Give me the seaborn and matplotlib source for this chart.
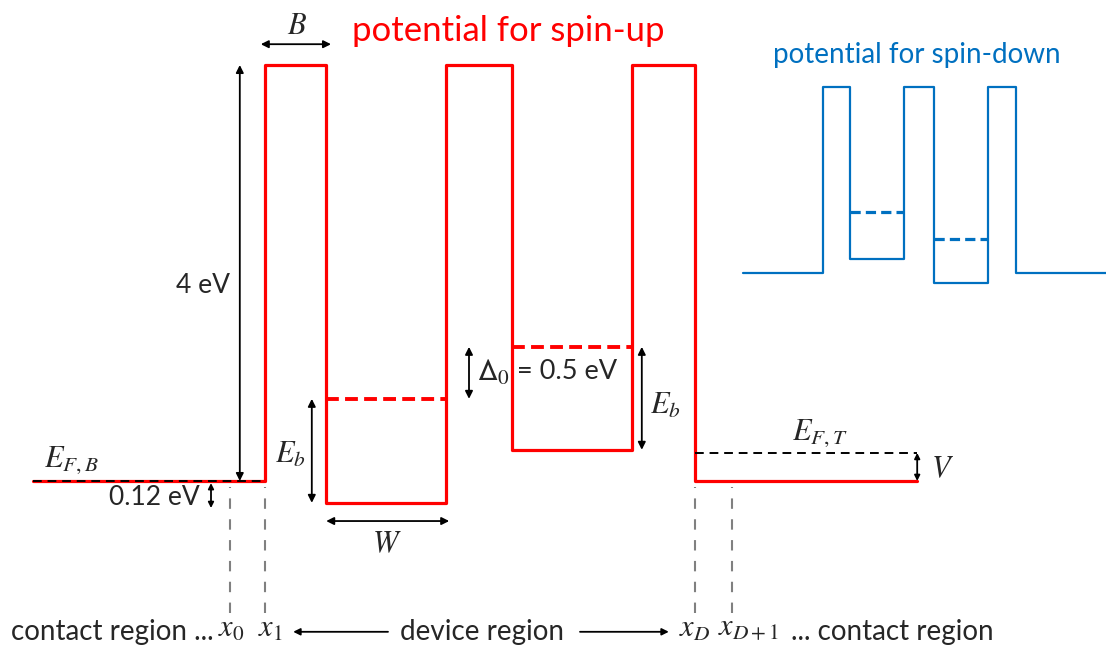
import numpy as np
import matplotlib
matplotlib.use("Agg")
import matplotlib.pyplot as plt
import seaborn as sns

# ---------------- data ----------------
# region boundaries along the transport direction (barrier width B ~ 1, well width W ~ 2)
edges_up = [-3.87, 0.0, 1.02, 3.02, 4.12, 6.12, 7.17, 10.87]
# potential of each region for spin-up electrons (eV)
levels_up = [0.0, 4.0, -0.21, 4.0, 0.30, 4.0, 0.0]
# quasi-bound levels inside the two wells (eV)
bound_up = [0.79, 1.29]

# spin-down profile (wells swapped)
edges_dn = [-2.97, 0.0, 1.02, 3.02, 4.12, 6.12, 7.17, 10.6]
levels_dn = [0.0, 4.0, 0.30, 4.0, -0.23, 4.0, 0.0]
bound_dn = [1.31, 0.72]

# well extents (left edge, right edge)
wells = [(1.02, 3.02), (4.12, 6.12)]

# grid points at the contact/device interfaces
grid_pts = [-0.58, 0.0, 7.17, 7.78]
grid_labels = [r"$x_0$", r"$x_1$", r"$x_D$", r"$x_{D+1}$"]

bias_v = 0.27        # E_F,T - E_F,B offset (V)
ef_drop = 0.26       # "0.12 eV" marker length
RED = "#FF0000"
BLUE = "#0070C0"

# ---------------- style ----------------
sns.set_style("white")
plt.rcParams["font.family"] = ["Lato", "DejaVu Sans"]
plt.rcParams["mathtext.fontset"] = "stix"

FS_TXT = 20
FS_MATH = 22

fig = plt.figure(figsize=(11.06, 6.46), dpi=100)
ax = fig.add_axes([0, 0, 1, 1])
ax.set_xlim(-265 / 60, 841 / 60)
ax.set_ylim(-165 / 104, 481 / 104)
ax.axis("off")


def step(edges, levels):
    return list(edges), list(levels) + [levels[-1]]


def darrow(a, p1, p2, lw=1.3, ms=11, style="<|-|>"):
    a.annotate("", xy=p2, xytext=p1,
               arrowprops=dict(arrowstyle=style, color="black", lw=lw,
                               mutation_scale=ms, shrinkA=0, shrinkB=0))


# ---------------- spin-up profile ----------------
xs, ys = step(edges_up, levels_up)
sns.lineplot(x=xs, y=ys, drawstyle="steps-post", estimator=None, sort=False,
             color=RED, lw=2.3, ax=ax)
for (a, b), lv in zip(wells, bound_up):
    ax.hlines(lv, a, b, color=RED, lw=2.8, linestyles=(0, (3.3, 1.6)))

# Fermi levels
ax.hlines(levels_up[0], edges_up[0], edges_up[1], color="black", lw=1.4,
          linestyles=(0, (4.5, 3)), zorder=4)
ax.hlines(levels_up[-1] + bias_v, edges_up[-2], edges_up[-1], color="black",
          lw=1.4, linestyles=(0, (4.5, 3)))

# grid markers
ax.vlines(grid_pts, -1.27, -0.06, color="#808080", lw=1.5,
          linestyles=(0, (5, 5)))

# dimension arrows
darrow(ax, (-0.07, 4.2), (1.10, 4.2))
ax.text(0.53, 4.38, r"$B$", fontsize=FS_MATH, ha="center", va="center")

darrow(ax, (-0.42, levels_up[0]), (-0.42, levels_up[1]))
ax.text(-1.03, 1.88, "4 eV", fontsize=19, ha="center", va="center")

darrow(ax, (-0.9, levels_up[0] - 0.02), (-0.9, levels_up[0] - ef_drop), ms=8)
ax.text(-1.09, -0.16, "0.12 eV", fontsize=19, ha="right", va="center")

ax.text(-3.68, 0.2, r"$E_{F,B}$", fontsize=FS_MATH, ha="left", va="center")

darrow(ax, (0.78, levels_up[2]), (0.78, bound_up[0]))
ax.text(0.42, 0.26, r"$E_b$", fontsize=FS_MATH, ha="center", va="center")

darrow(ax, (wells[0][0], -0.385), (wells[0][1] + 0.05, -0.385))
ax.text(2.03, -0.6, r"$W$", fontsize=FS_MATH, ha="center", va="center")

darrow(ax, (3.4, bound_up[0]), (3.4, bound_up[1]))
ax.text(3.53, 1.04, r"$\mathsf{\Delta}_0$", fontsize=FS_MATH, ha="left", va="center")
ax.text(4.2, 1.05, "= 0.5 eV", fontsize=19.5, ha="left", va="center")

darrow(ax, (6.28, levels_up[4]), (6.28, bound_up[1]))
ax.text(6.42, 0.73, r"$E_b$", fontsize=FS_MATH, ha="left", va="center")

ax.text(8.78, 0.46, r"$E_{F,T}$", fontsize=FS_MATH, ha="left", va="center")
darrow(ax, (edges_up[-1], levels_up[-1]), (edges_up[-1], levels_up[-1] + bias_v), ms=8)
ax.text(11.1, 0.12, r"$V$", fontsize=FS_MATH, ha="left", va="center")

ax.text(1.45, 4.33, "potential for spin-up", color=RED, fontsize=25,
        ha="left", va="center")

# bottom axis description
yb = -1.45
ax.text(-0.86, yb, "contact region ...", fontsize=FS_TXT, ha="right", va="center")
offs = [-0.78, -0.12, 6.9, 7.55]
for x, lab in zip(offs, grid_labels):
    ax.text(x, yb + 0.03, lab, fontsize=FS_MATH, ha="left", va="center")
darrow(ax, (2.05, yb), (0.47, yb), style="-|>", ms=10)
ax.text(3.62, yb, "device region", fontsize=FS_TXT, ha="center", va="center")
darrow(ax, (5.25, yb), (6.73, yb), style="-|>", ms=10)
ax.text(8.77, yb, "... contact region", fontsize=FS_TXT, ha="left", va="center")

# ---------------- spin-down inset ----------------
ax2 = fig.add_axes([0, 0, 1, 1])
ax2.set_xlim(-823 / 26.9, 283 / 26.9)
ax2.set_ylim((272.7 - 646) / 46.35, 272.7 / 46.35)
ax2.patch.set_alpha(0)
ax2.axis("off")

xs2, ys2 = step(edges_dn, levels_dn)
sns.lineplot(x=xs2, y=ys2, drawstyle="steps-post", estimator=None, sort=False,
             color=BLUE, lw=1.6, ax=ax2)
for (a, b), lv in zip(wells, bound_dn):
    ax2.hlines(lv, a, b, color=BLUE, lw=2.3, linestyles=(0, (3.2, 1.6)))
ax2.text(3.49, 4.70, "potential for spin-down", color=BLUE, fontsize=20,
         ha="center", va="center")

fig.savefig("out.png", dpi=100)
